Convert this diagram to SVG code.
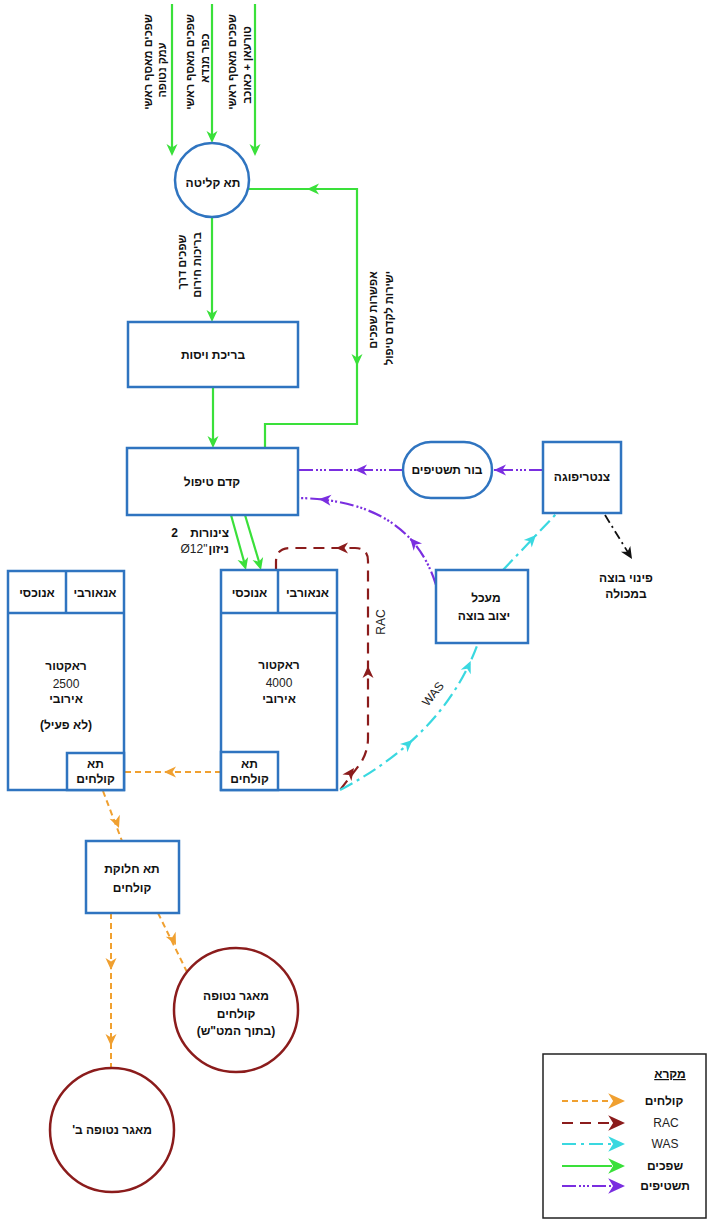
<svg xmlns="http://www.w3.org/2000/svg" xmlns:xlink="http://www.w3.org/1999/xlink" width="712" height="1229" viewBox="0 0 712 1229">
<style>
.bx{fill:#fff;stroke:#2f74c0;stroke-width:2.5}
.rc{fill:#fff;stroke:#8b1c1c;stroke-width:2.5}
.t{font-family:"Liberation Sans","DejaVu Sans",sans-serif;font-weight:bold;font-size:12px;fill:#111;text-anchor:middle;direction:rtl}
.tl{font-family:"Liberation Sans","DejaVu Sans",sans-serif;font-weight:bold;font-size:12px;fill:#111}
.n{font-family:"Liberation Sans","DejaVu Sans",sans-serif;font-weight:normal;font-size:12px;fill:#222;text-anchor:middle}
.v{font-family:"Liberation Sans","DejaVu Sans",sans-serif;font-weight:bold;font-size:11px;fill:#111;text-anchor:middle;direction:rtl;dominant-baseline:central}
.g{fill:none;stroke:#3ae03a;stroke-width:2.2}
.o{fill:none;stroke:#f0a030;stroke-width:2;stroke-dasharray:6 4}
.r{fill:none;stroke:#8b1c1c;stroke-width:2.2;stroke-dasharray:11 7}
.c{fill:none;stroke:#3ad8e0;stroke-width:2.2;stroke-dasharray:14 5 3 5}
.p{fill:none;stroke:#7a2ee0;stroke-width:2.2;stroke-dasharray:14 3 2 2 2 2 2 3}
.k{fill:none;stroke:#111;stroke-width:1.8;stroke-dasharray:9 4 2 4}
.ag{fill:#3ae03a}.ao{fill:#f0a030}.ar{fill:#8b1c1c}.ac{fill:#3ad8e0}.ap{fill:#7a2ee0}.ak{fill:#111}
</style>
<defs>
<path id="ah" d="M0,0 L-12,-5.5 L-8.5,0 L-12,5.5 Z"/>
</defs>
<rect width="712" height="1229" fill="#fff"/>

<g id="connectors">
  <!-- inflows -->
  <line class="g" x1="172" y1="4" x2="172" y2="150"/>
  <use href="#ah" class="ag" transform="translate(172,156) rotate(90)"/>
  <line class="g" x1="212" y1="4" x2="212" y2="138"/>
  <use href="#ah" class="ag" transform="translate(212,143) rotate(90)"/>
  <line class="g" x1="255" y1="4" x2="255" y2="150"/>
  <use href="#ah" class="ag" transform="translate(255,156) rotate(90)"/>
  <!-- circle to pond -->
  <line class="g" x1="212" y1="217" x2="212" y2="316"/>
  <use href="#ah" class="ag" transform="translate(212,322) rotate(90)"/>
  <!-- pond to pretreatment -->
  <line class="g" x1="213" y1="387" x2="213" y2="442"/>
  <use href="#ah" class="ag" transform="translate(213,448) rotate(90)"/>
  <!-- bypass -->
  <polyline class="g" points="265,448 265,424 357,424 357,189 248,189"/>
  <use href="#ah" class="ag" transform="translate(357,366) rotate(90)"/>
  <use href="#ah" class="ag" transform="translate(307,189) rotate(180)"/>
  <!-- two pipes -->
  <line class="g" x1="231" y1="515" x2="245" y2="565"/>
  <use href="#ah" class="ag" transform="translate(246,570) rotate(74.7)"/>
  <line class="g" x1="245" y1="515" x2="260" y2="565"/>
  <use href="#ah" class="ag" transform="translate(261,570) rotate(74.7)"/>
  <!-- backwash -->
  <line class="p" x1="543" y1="470" x2="494" y2="470"/>
  <use href="#ah" class="ap" transform="translate(494,470) rotate(180)"/>
  <line class="p" x1="403" y1="470" x2="298" y2="470"/>
  <use href="#ah" class="ap" transform="translate(355,470) rotate(180)"/>
  <path class="p" d="M436,585 Q410,500 298,498"/>
  <use href="#ah" class="ap" transform="translate(410,538) rotate(229)"/>
  <use href="#ah" class="ap" transform="translate(319,499) rotate(185.7)"/>
  <!-- RAC -->
  <path class="r" d="M276,570 L276,562 Q276,548 290,548 L355,548 Q368,548 368,561 L368,738 Q368,752 360,764 L340,790"/>
  <use href="#ah" class="ar" transform="translate(336,548) rotate(180)"/>
  <use href="#ah" class="ar" transform="translate(368,666) rotate(-90)"/>
  <use href="#ah" class="ar" transform="translate(354,768) rotate(-54)"/>
  <!-- WAS -->
  <path class="c" d="M340,790 Q445,735 478,643"/>
  <use href="#ah" class="ac" transform="translate(412.5,740) rotate(-42.5)"/>
  <use href="#ah" class="ac" transform="translate(470.7,661) rotate(-65.5)"/>
  <line class="c" x1="503" y1="570" x2="557" y2="513"/>
  <use href="#ah" class="ac" transform="translate(536,535) rotate(-46.5)"/>
  <!-- sludge removal -->
  <line class="k" x1="605" y1="515" x2="629" y2="554"/>
  <use href="#ah" class="ak" transform="translate(632,559) rotate(58)"/>
  <!-- effluent -->
  <line class="o" x1="221" y1="772" x2="124" y2="772"/>
  <use href="#ah" class="ao" transform="translate(164,772) rotate(180)"/>
  <line class="o" x1="103" y1="791" x2="122" y2="841"/>
  <use href="#ah" class="ao" transform="translate(119,828) rotate(69)"/>
  <line class="o" x1="111" y1="913" x2="111" y2="1068"/>
  <use href="#ah" class="ao" transform="translate(111,970) rotate(90)"/>
  <use href="#ah" class="ao" transform="translate(111,1046) rotate(90)"/>
  <line class="o" x1="158" y1="913" x2="187" y2="972"/>
  <use href="#ah" class="ao" transform="translate(176,945) rotate(63.8)"/>
  <!-- labels on connectors -->
  <text class="v" transform="translate(148,62) rotate(-90)">שפכים מאסף ראשי</text>
  <text class="v" transform="translate(162,70) rotate(-90)">עמק נטופה</text>
  <text class="v" transform="translate(190,62) rotate(-90)">שפכים מאסף ראשי</text>
  <text class="v" transform="translate(205,58) rotate(-90)">כפר מנדא</text>
  <text class="v" transform="translate(232,62) rotate(-90)">שפכים מאסף ראשי</text>
  <text class="v" transform="translate(247,65) rotate(-90)">טורעאן + כאוכב</text>
  <text class="v" transform="translate(182,262) rotate(-90)">שפכים דרך</text>
  <text class="v" transform="translate(197,265) rotate(-90)">בריכות חירום</text>
  <text class="v" transform="translate(373,310) rotate(-90)">אפשרות שפכים</text>
  <text class="v" transform="translate(389,318) rotate(-90)">ישירות לקדם טיפול</text>
  <text class="tl" x="178" y="537" text-anchor="end">2</text>
  <text class="tl" x="229" y="537" text-anchor="end">צינורות</text>
  <text class="n" x="194" y="553" text-anchor="end">Ø12"</text>
  <text class="tl" x="229" y="553" text-anchor="end">ניזון</text>
  <text class="n" font-size="11" transform="translate(381,622) rotate(-90)" dominant-baseline="central">RAC</text>
  <text class="n" font-size="11" transform="translate(433,694) rotate(-51)" dominant-baseline="central">WAS</text>
  <text class="t" x="626" y="582">פינוי בוצה</text>
  <text class="t" x="626" y="598">במכולה</text>
</g>

<g id="n-receiving">
  <circle class="bx" cx="212" cy="180" r="37"/>
  <text class="t" x="213" y="187">תא קליטה</text>
</g>
<g id="n-pond">
  <rect class="bx" x="128" y="322" width="170" height="65"/>
  <text class="t" x="213" y="359">בריכת ויסות</text>
</g>
<g id="n-pretreat">
  <rect class="bx" x="127" y="448" width="171" height="67"/>
  <text class="t" x="212" y="486">קדם טיפול</text>
</g>
<g id="n-backwash">
  <rect class="bx" x="403" y="442" width="89" height="56" rx="28"/>
  <text class="t" x="447" y="474">בור תשטיפים</text>
</g>
<g id="n-centrifuge">
  <rect class="bx" x="543" y="442" width="78" height="71"/>
  <text class="t" x="582" y="481">צנטריפוגה</text>
</g>
<g id="n-digester">
  <rect class="bx" x="436" y="570" width="92" height="73"/>
  <text class="t" x="486" y="602">מעכל</text>
  <text class="t" x="484" y="620">יצוב בוצה</text>
</g>
<g id="n-reactor4000">
  <rect class="bx" x="221" y="570" width="116" height="220"/>
  <line class="bx" x1="221" y1="613" x2="337" y2="613"/>
  <line class="bx" x1="278" y1="570" x2="278" y2="613"/>
  <rect class="bx" x="221" y="752" width="57" height="38"/>
  <text class="t" x="249.5" y="597">אנוכסי</text>
  <text class="t" x="307.5" y="597">אנאורבי</text>
  <text class="t" x="279" y="669">ראקטור</text>
  <text class="n" x="279" y="687">4000</text>
  <text class="t" x="279" y="703">אירובי</text>
  <text class="t" x="249.5" y="768">תא</text>
  <text class="t" x="249.5" y="783">קולחים</text>
</g>
<g id="n-reactor2500">
  <rect class="bx" x="8" y="571" width="116" height="219"/>
  <line class="bx" x1="8" y1="613" x2="124" y2="613"/>
  <line class="bx" x1="66" y1="571" x2="66" y2="613"/>
  <rect class="bx" x="67" y="753" width="57" height="37"/>
  <text class="t" x="37" y="597">אנוכסי</text>
  <text class="t" x="95" y="597">אנאורבי</text>
  <text class="t" x="66" y="670">ראקטור</text>
  <text class="n" x="66" y="688">2500</text>
  <text class="t" x="66" y="703">אירובי</text>
  <text class="t" x="66" y="729">(לא פעיל)</text>
  <text class="t" x="95.5" y="768">תא</text>
  <text class="t" x="95.5" y="783">קולחים</text>
</g>
<g id="n-distribution">
  <rect class="bx" x="86" y="841" width="93" height="72"/>
  <text class="t" x="132" y="873">תא חלוקת</text>
  <text class="t" x="132" y="892">קולחים</text>
</g>
<g id="n-reservoirA">
  <circle class="rc" cx="236" cy="1010" r="62"/>
  <text class="t" x="236" y="1000">מאגר נטופה</text>
  <text class="t" x="236" y="1018">קולחים</text>
  <text class="t" x="236" y="1035">(בתוך המט"ש)</text>
</g>
<g id="n-reservoirB">
  <circle class="rc" cx="112" cy="1130" r="62"/>
  <text class="t" x="112" y="1134">מאגר נטופה ב'</text>
</g>

<g id="legend">
  <rect x="543" y="1054" width="163" height="164" fill="#fff" stroke="#222" stroke-width="1.5"/>
  <text class="t" x="670" y="1078" text-decoration="underline">מקרא</text>
  <line class="o" x1="562" y1="1101" x2="612" y2="1101"/>
  <use href="#ah" class="ao" transform="translate(625,1101) scale(1.4)"/>
  <text class="t" x="664" y="1105">קולחים</text>
  <line class="r" x1="562" y1="1123" x2="612" y2="1123"/>
  <use href="#ah" class="ar" transform="translate(625,1123) scale(1.4)"/>
  <text class="n" x="666" y="1127">RAC</text>
  <line class="c" x1="562" y1="1144" x2="612" y2="1144"/>
  <use href="#ah" class="ac" transform="translate(625,1144) scale(1.4)"/>
  <text class="n" x="665" y="1148">WAS</text>
  <line class="g" x1="562" y1="1166" x2="612" y2="1166"/>
  <use href="#ah" class="ag" transform="translate(625,1166) scale(1.4)"/>
  <text class="t" x="665" y="1170">שפכים</text>
  <line class="p" x1="562" y1="1186" x2="612" y2="1186"/>
  <use href="#ah" class="ap" transform="translate(625,1186) scale(1.4)"/>
  <text class="t" x="665" y="1190">תשטיפים</text>
</g>
</svg>
